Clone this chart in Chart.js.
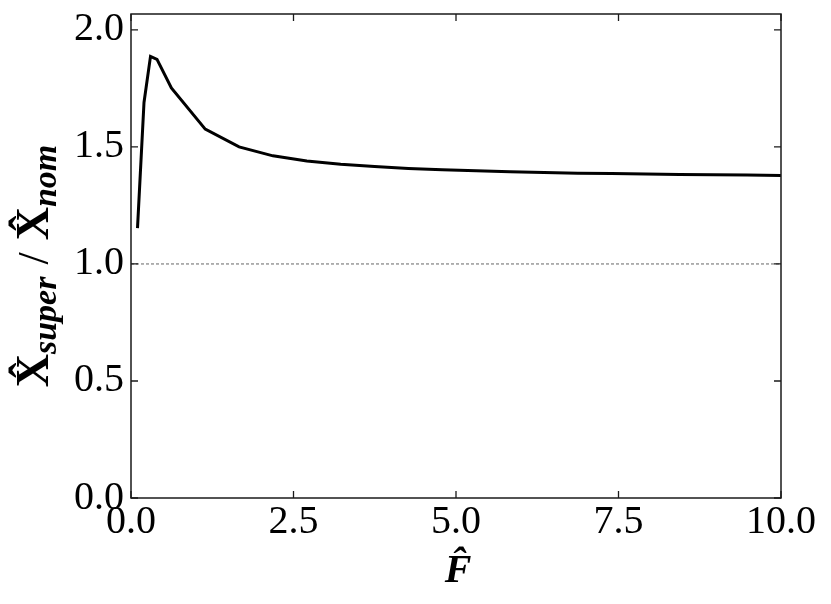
<!DOCTYPE html>
<html>
<head>
<meta charset="utf-8">
<script src="https://cdn.jsdelivr.net/npm/chart.js@4.4.0/dist/chart.umd.min.js"></script>
<style>
html,body{margin:0;padding:0;background:#fff;}
#wrap{width:831px;height:604px;position:relative;}
</style>
</head>
<body>
<div id="wrap"><canvas id="c" width="831" height="604"></canvas></div>
<script>
// Data
const F_VALUES = [0.1, 0.2, 0.3, 0.4, 0.621, 1.142, 1.663, 2.184, 2.705, 3.226, 3.747, 4.268, 4.789, 5.311, 5.832, 6.353, 6.874, 7.395, 7.916, 8.437, 8.958, 9.479, 10.0];
const RATIO_VALUES = [1.153, 1.690, 1.887, 1.874, 1.752, 1.576, 1.500, 1.462, 1.440, 1.426, 1.416, 1.408, 1.402, 1.398, 1.394, 1.391, 1.388, 1.386, 1.384, 1.382, 1.381, 1.380, 1.378];
const REF_X = [0, 10];
const REF_Y = [1.0, 1.0];
const X_TICKS = [0, 2.5, 5.0, 7.5, 10.0];
const Y_TICKS = [0, 0.5, 1.0, 1.5, 2.0];
const X_TITLE = "F\u0302";
const Y_TITLE_PARTS = ["X\u0302", "super", "/", "X\u0302", "nom"];

const FONT = "'Liberation Serif', 'Times New Roman', serif";

const frame = {
  id: 'frame',
  afterDatasetsDraw(chart) {
    const {ctx, chartArea: a, scales: {x, y}} = chart;
    ctx.save();
    ctx.strokeStyle = '#1a1a1a';
    ctx.lineWidth = 1.5;
    ctx.strokeRect(a.left, a.top, a.right - a.left, a.bottom - a.top);
    const L = 7;
    ctx.lineWidth = 1.3;
    ctx.beginPath();
    X_TICKS.forEach(v => {
      const px = x.getPixelForValue(v);
      ctx.moveTo(px, a.bottom); ctx.lineTo(px, a.bottom - L);
      ctx.moveTo(px, a.top); ctx.lineTo(px, a.top + L);
    });
    Y_TICKS.forEach(v => {
      const py = y.getPixelForValue(v);
      ctx.moveTo(a.left, py); ctx.lineTo(a.left + L, py);
      ctx.moveTo(a.right, py); ctx.lineTo(a.right - L, py);
    });
    ctx.stroke();
    // axis titles
    ctx.fillStyle = '#000';
    ctx.textBaseline = 'alphabetic';
    ctx.textAlign = 'center';
    ctx.font = "bold italic 40px " + FONT;
    ctx.fillText(X_TITLE, (a.left + a.right) / 2 + 2, 582);
    // y title rotated
    ctx.translate(48, 266);
    ctx.rotate(-Math.PI / 2);
    const big = "bold 46px " + FONT;
    const sub = "bold italic 34px " + FONT;
    const slash = "44px " + FONT;
    const fonts = [big, sub, slash, big, sub];
    const dy = [0, 8, 0, 0, 8];
    const gapBefore = [0, 0, 12, 12, 0];
    let total = 0;
    const widths = Y_TITLE_PARTS.map((t, i) => { ctx.font = fonts[i]; const w = ctx.measureText(t).width; total += w + gapBefore[i]; return w; });
    let cx = -total / 2;
    ctx.textAlign = 'left';
    Y_TITLE_PARTS.forEach((t, i) => {
      cx += gapBefore[i];
      ctx.font = fonts[i];
      ctx.fillText(t, cx, dy[i]);
      cx += widths[i];
    });
    ctx.restore();
  }
};

new Chart(document.getElementById('c'), {
  type: 'line',
  data: {
    datasets: [
      {
        data: REF_X.map((v, i) => ({x: v, y: REF_Y[i]})),
        borderColor: '#666',
        borderWidth: 1,
        borderDash: [3, 2],
        pointRadius: 0,
        fill: false,
        order: 2
      },
      {
        data: F_VALUES.map((v, i) => ({x: v, y: RATIO_VALUES[i]})),
        borderColor: '#000',
        borderWidth: 3,
        pointRadius: 0,
        tension: 0,
        fill: false,
        order: 1
      }
    ]
  },
  options: {
    responsive: false,
    animation: false,
    events: [],
    layout: {padding: {left: 0, right: 50, top: 14, bottom: 0}},
    plugins: {legend: {display: false}, tooltip: {enabled: false}},
    scales: {
      x: {
        type: 'linear', min: 0, max: 10,
        afterBuildTicks: s => { s.ticks = X_TICKS.map(v => ({value: v})); },
        afterFit: s => { s.height = 106; s.paddingLeft = 0; s.paddingRight = 0; },
        grid: {display: false, drawTicks: false},
        border: {display: false},
        ticks: {
          color: '#000', padding: 0, maxRotation: 0, autoSkip: false,
          font: {family: FONT, size: 40},
          callback: v => Number(v).toFixed(1)
        }
      },
      y: {
        type: 'linear', min: 0, max: 2.068,
        afterBuildTicks: s => { s.ticks = Y_TICKS.map(v => ({value: v})); },
        afterFit: s => { s.width = 131; s.paddingTop = 0; s.paddingBottom = 0; },
        grid: {display: false, drawTicks: false},
        border: {display: false},
        ticks: {
          color: '#000', padding: 7, autoSkip: false,
          font: {family: FONT, size: 40},
          callback: v => Number(v).toFixed(1)
        }
      }
    }
  },
  plugins: [frame]
});
</script>
</body>
</html>
